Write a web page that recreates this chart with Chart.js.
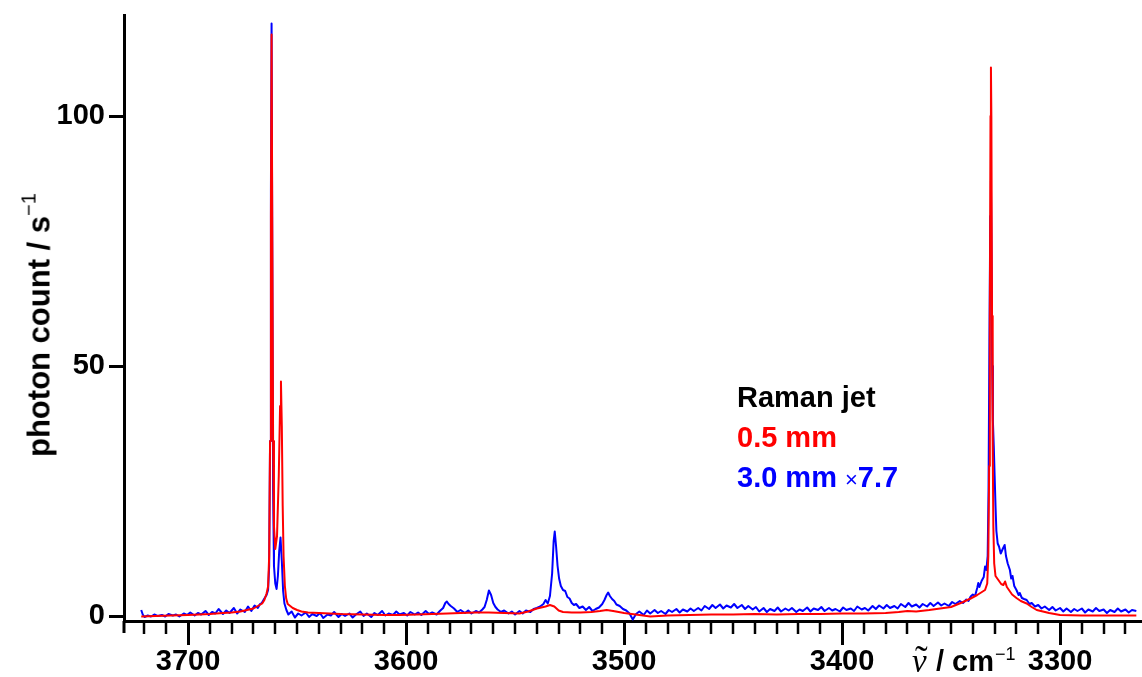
<!DOCTYPE html>
<html>
<head>
<meta charset="utf-8">
<script src="https://cdn.jsdelivr.net/npm/chart.js@4.4.1/dist/chart.umd.min.js"></script>
<style>
html,body{margin:0;padding:0;background:#fff;}
#wrap{position:relative;width:1142px;height:677px;overflow:hidden;}
canvas{display:block;}
.lg{position:absolute;left:737px;font-family:"Liberation Sans",Arial,sans-serif;font-weight:bold;font-size:29px;line-height:29px;white-space:nowrap;}
.t{position:absolute;white-space:nowrap;color:#000;}
.sans{font-family:"Liberation Sans",Arial,sans-serif;}
.serif{font-family:"Liberation Serif","DejaVu Serif",serif;}
#yt{position:absolute;left:39px;top:325px;transform:translate(-50%,-50%) rotate(-90deg);font-family:"Liberation Sans",Arial,sans-serif;font-weight:bold;font-size:31px;line-height:31px;white-space:nowrap;color:#000;}
#yt sup{font-size:20px;line-height:0;font-weight:normal;position:relative;top:-3px;vertical-align:super;}
</style>
</head>
<body>
<div id="wrap">
<canvas id="c" width="1142" height="677"></canvas>
<div class="lg" style="top:383px;color:#000000">Raman jet</div>
<div class="lg" style="top:423px;color:#ff0000">0.5 mm</div>
<div class="lg" style="top:463px;color:#0000ff">3.0 mm <span style="font-weight:normal;font-size:22px">×</span>7.7</div>
<div id="yt">photon count / s<sup>−1</sup></div>
<span class="t serif" style="left:912px;top:645px;font-size:33px;line-height:33px;font-style:italic;">ν</span>
<span class="t serif" style="left:915px;top:640px;font-size:38px;line-height:38px;">˜</span>
<span class="t sans" style="left:936px;top:647px;font-size:29px;line-height:29px;font-weight:bold;">/ cm</span>
<span class="t sans" style="left:995px;top:645px;font-size:18px;line-height:18px;">−1</span>
</div>
<script>
// ---- data (wavenumber / cm^-1, photon count / s^-1) ----
const seriesLabels = ["0.5 mm", "3.0 mm ×7.7"];
const xMajorTicks = [3700, 3600, 3500, 3400, 3300];
const yTicks = [0, 50, 100];

const red05mm = [
[3721.5,-0.1],[3715,0.0],[3708,0.1],[3700,0.2],[3690,0.4],[3684,0.6],[3680,0.7],[3676,0.9],[3674,1.1],
[3670,1.5],[3668,2.0],[3666,2.5],[3665,3.2],[3664,4.5],[3663.3,5.9],[3662.8,12],[3662.4,35],[3662.0,80],
[3661.7,116.3],[3661.4,80],[3661.0,35],[3660.6,18],[3660.0,13.4],[3659.2,16],[3658.4,28],[3657.8,42],
[3657.4,46.9],[3657.0,38],[3656.6,22],[3656.2,12],[3655.6,6],[3655.0,3.5],[3654.3,2.4],[3652,1.6],
[3650,1.2],[3648,0.9],[3645,0.7],[3640,0.6],[3635,0.5],[3630,0.4],[3620,0.3],[3610,0.2],[3603,0.2],
[3595,0.3],[3588,0.4],[3581,0.5],[3575,0.6],[3568,0.7],[3562,0.7],[3555,0.6],[3548,0.5],[3544,0.9],
[3540,1.5],[3536,1.9],[3534,2.2],[3532,1.9],[3530,1.1],[3528,0.8],[3524,0.7],[3520,0.7],[3515,0.8],
[3511,1.0],[3508,1.2],[3505,1.0],[3500,0.6],[3493,0.2],[3488,-0.1],[3480,0.1],[3470,0.2],[3460,0.3],
[3450,0.3],[3440,0.4],[3430,0.3],[3420,0.4],[3410,0.4],[3400,0.5],[3390,0.5],[3380,0.6],[3374,0.8],
[3370,1.0],[3366,0.9],[3360,1.2],[3355,1.5],[3350,1.8],[3345,2.7],[3341,3.5],[3338,4.2],[3334.4,5.2],
[3333.4,6.5],[3332.9,12],[3332.5,30],[3332.2,60],[3331.9,100],[3331.7,109.7],[3331.5,100],[3331.2,60],
[3330.9,35],[3330.6,18],[3330.2,10.5],[3329.6,8],[3328.3,7.2],[3327,6.4],[3326,6.2],[3325.2,6.9],
[3324.4,5.8],[3322,4.3],[3320,3.6],[3318,3.0],[3315.3,2.5],[3313,1.8],[3310.7,1.2],[3305,0.6],
[3300,0.2],[3290,0.1],[3280,0.1],[3265,0.1]
];

const blue30mm = [
[3721.5,1.2],[3720.8,0.3],[3720,-0.2],[3718.5,0.1],[3717,-0.1],[3715.5,0.3],[3714,0.0],[3712,0.2],
[3710.5,-0.1],[3709,0.4],[3707,0.1],[3705.5,0.3],[3704,-0.1],[3702,0.5],[3700.5,0.2],[3699,0.7],
[3697,0.1],[3695.5,0.6],[3694,0.3],[3692,1.0],[3690.5,0.2],[3689,0.8],[3687.5,0.5],[3686,1.4],
[3684,0.4],[3682.5,1.1],[3681,0.6],[3679,1.6],[3677.5,0.5],[3676,1.3],[3674,0.8],[3672.5,1.9],
[3671,1.0],[3669.5,2.1],[3668,1.6],[3667,2.4],[3666.2,2.6],[3665,3.5],[3664,4.2],[3663.3,5.2],
[3662.8,10],[3662.4,35],[3662.0,85],[3661.7,118.5],[3661.4,75],[3661.0,25],[3660.6,10],[3660.0,6.5],
[3659.4,5.4],[3658.8,8],[3658.2,13],[3657.6,15.7],[3657.0,11],[3656.4,5],[3655.8,2.5],[3654.9,1.2],
[3654,0.3],[3652.5,0.9],[3651,-0.3],[3649.5,0.5],[3648,0.1],[3646,0.7],[3644.5,-0.2],[3643,0.4],
[3641,0.0],[3639.5,0.6],[3638,-0.4],[3636,0.3],[3634.5,0.1],[3633,0.8],[3631,-0.2],[3629.5,0.4],
[3628,0.0],[3626,0.5],[3624.5,-0.3],[3623,0.3],[3621,0.9],[3619.5,0.0],[3618,0.5],[3616,-0.2],
[3614.5,0.6],[3613,0.2],[3611,1.0],[3609.5,0.1],[3608,0.5],[3606,0.2],[3604.5,0.9],[3603,0.3],
[3601,0.6],[3599.5,0.1],[3598,0.8],[3596,0.3],[3594.5,0.7],[3593,0.2],[3591,1.0],[3589.5,0.4],
[3588,0.7],[3586,0.3],[3584.5,1.0],[3583,1.6],[3582,2.6],[3581.3,2.9],[3580.5,2.4],[3579.5,2.0],
[3578,1.5],[3576.5,0.8],[3575,1.2],[3573,0.6],[3571.5,1.1],[3570,0.5],[3568,1.0],[3566.5,0.7],
[3565,1.3],[3564,1.8],[3563,3.2],[3562,5.1],[3561,4.2],[3560,2.6],[3559,1.8],[3558,1.3],
[3556.5,0.8],[3555,1.1],[3553,0.5],[3551.5,0.9],[3550,0.3],[3548,1.0],[3546.5,0.5],[3545,1.1],
[3543,0.8],[3541.5,1.4],[3540,1.6],[3538.5,1.9],[3537,2.4],[3536,3.2],[3535,2.5],[3534,4.0],
[3533,8.5],[3532.3,15.0],[3531.8,16.9],[3531.2,14.0],[3530.5,10.0],[3529.8,7.5],[3529,6.0],[3528,5.2],
[3527,5.0],[3526,3.8],[3525,3.5],[3524,2.6],[3523,2.2],[3522,2.4],[3520.5,1.6],[3519,1.9],
[3517.5,1.2],[3516,1.8],[3514.5,1.0],[3513,1.4],[3511.5,1.7],[3510,2.4],[3509,3.2],[3508,4.2],
[3507.3,4.7],[3506.5,4.0],[3505.5,3.4],[3504.5,3.0],[3503.5,2.3],[3502,2.0],[3500.5,1.4],[3499,1.1],
[3497.5,0.5],[3496,-0.7],[3494.5,0.4],[3493,0.9],[3491,0.2],[3489.5,1.1],[3488,0.5],[3486,1.2],
[3484.5,0.6],[3483,1.0],[3481,0.4],[3479.5,1.2],[3478,0.8],[3476,1.4],[3474.5,0.7],[3473,1.3],
[3471,0.9],[3469.5,1.5],[3468,1.0],[3466,1.6],[3464.5,1.1],[3463,2.0],[3461,1.4],[3459.5,2.2],
[3458,1.6],[3456,2.3],[3454.5,1.5],[3453,2.1],[3451,1.7],[3449.5,2.4],[3448,1.6],[3446,2.2],
[3444.5,1.4],[3443,2.0],[3441,1.3],[3439.5,1.8],[3438,0.9],[3436,1.6],[3434.5,0.8],[3433,1.4],
[3431,1.0],[3429.5,1.7],[3428,0.9],[3426,1.5],[3424.5,1.1],[3423,1.6],[3421,0.8],[3419.5,1.3],
[3418,1.0],[3416,1.7],[3414.5,0.9],[3413,1.5],[3411,1.2],[3409.5,1.8],[3408,1.0],[3406,1.6],
[3404.5,1.1],[3403,1.4],[3401,0.9],[3399.5,1.7],[3398,1.2],[3396,1.5],[3394.5,1.0],[3393,1.9],
[3391,1.3],[3389.5,1.6],[3388,1.1],[3386,2.0],[3384.5,1.4],[3383,2.1],[3381,1.5],[3379.5,2.2],
[3378,1.6],[3376,2.0],[3374.5,1.5],[3373,2.4],[3371,1.8],[3369.5,2.6],[3368,1.9],[3366,2.3],
[3364.5,1.7],[3363,2.4],[3361,1.9],[3359.5,2.6],[3358,2.0],[3356,2.7],[3354.5,2.1],[3353,2.5],
[3351,2.0],[3349.5,2.8],[3348,2.4],[3346,3.0],[3344.5,2.6],[3343,3.3],[3342,3.0],[3341,3.9],
[3340,4.3],[3339,4.0],[3338,5.6],[3337.5,6.6],[3337,5.8],[3336,7.0],[3335,7.8],[3334.4,9.9],
[3333.8,9.2],[3333.2,12],[3332.8,25],[3332.4,55],[3332.0,80],[3331.7,87],[3331.4,70],[3331.1,50],
[3330.8,39],[3330.4,34],[3330.0,28],[3329.6,22],[3329.2,17],[3328.6,14.5],[3328,13.9],[3327.2,12.5],
[3326.2,13.5],[3325.4,14.2],[3324.8,12.0],[3324,10.5],[3323,9.2],[3322.4,7.5],[3321.8,8.0],[3321,6.0],
[3320,5.2],[3319,4.2],[3318.5,4.6],[3317.5,3.6],[3316.5,3.4],[3315.3,3.2],[3314,2.4],[3313,2.6],
[3311.5,1.9],[3310,2.2],[3308.5,1.5],[3307,1.9],[3305,1.2],[3303.5,1.8],[3302,1.1],[3300,1.6],
[3298.5,0.9],[3297,1.5],[3295,0.8],[3293.5,1.4],[3292,1.0],[3290,1.5],[3288.5,0.7],[3287,1.3],
[3285,0.9],[3283.5,1.6],[3282,1.0],[3280,1.3],[3278.5,0.6],[3277,1.2],[3275,0.8],[3273.5,1.5],
[3272,0.9],[3270,1.3],[3268.5,0.7],[3267,1.2],[3265,1.0]
];

// ---- chart ----
const FONT = '"Liberation Sans", Arial, sans-serif';
const toXY = arr => arr.map(p => ({x: p[0], y: p[1]}));
const isMajor = v => xMajorTicks.includes(Math.round(v));

const axisExtras = {
  id: 'axisExtras',
  afterDraw(chart) {
    const ctx = chart.ctx, xs = chart.scales.x, a = chart.chartArea;
    ctx.save();
    ctx.strokeStyle = '#000';
    ctx.lineWidth = 2.5;
    xs.ticks.forEach(t => {
      if (!isMajor(t.value)) {
        const px = Math.round(xs.getPixelForValue(t.value));
        ctx.beginPath(); ctx.moveTo(px, a.bottom); ctx.lineTo(px, a.bottom + 13); ctx.stroke();
      }
    });
    ctx.lineWidth = 3;
    ctx.beginPath(); ctx.moveTo(a.left, a.bottom); ctx.lineTo(a.left, a.bottom + 12); ctx.stroke();
    ctx.restore();
  }
};

new Chart(document.getElementById('c'), {
  type: 'line',
  data: {
    datasets: [
      {label: seriesLabels[0], data: toXY(red05mm), borderColor: '#ff0000', borderWidth: 2,
       pointRadius: 0, tension: 0, borderJoinStyle: 'round', fill: false},
      {label: seriesLabels[1], data: toXY(blue30mm), borderColor: '#0000ff', borderWidth: 2,
       pointRadius: 0, tension: 0, borderJoinStyle: 'round', fill: false}
    ]
  },
  options: {
    responsive: false,
    animation: false,
    layout: {padding: {left: 26, top: 15, right: 0, bottom: 0}},
    plugins: {legend: {display: false}, tooltip: {enabled: false}},
    scales: {
      x: {
        type: 'linear', reverse: true, min: 3262.4, max: 3729.4,
        border: {display: true, color: '#000', width: 3},
        grid: {drawOnChartArea: false, drawTicks: true, tickLength: 24, tickWidth: 3,
               tickColor: ctx => (ctx.tick && isMajor(ctx.tick.value)) ? '#000' : 'rgba(0,0,0,0)'},
        ticks: {stepSize: 10, includeBounds: false, autoSkip: false, maxRotation: 0, padding: 0,
                color: '#000', font: {family: FONT, size: 29, weight: 'bold'},
                callback: v => isMajor(v) ? String(Math.round(v)) : ''},
        afterFit: s => { s.height = 56; s.paddingLeft = 0; s.paddingRight = 0; }
      },
      y: {
        type: 'linear', min: -1, max: 120.2,
        border: {display: true, color: '#000', width: 3},
        grid: {drawOnChartArea: false, drawTicks: true, tickLength: 15, tickWidth: 3, tickColor: '#000'},
        afterBuildTicks: s => { s.ticks = yTicks.map(v => ({value: v})); },
        ticks: {padding: 4, color: '#000', font: {family: FONT, size: 29, weight: 'bold'}},
        title: {display: false},
        afterFit: s => { s.width = 124 - 26; s.paddingTop = 0; s.paddingBottom = 0; }
      }
    }
  },
  plugins: [axisExtras]
});
</script>
</body>
</html>
